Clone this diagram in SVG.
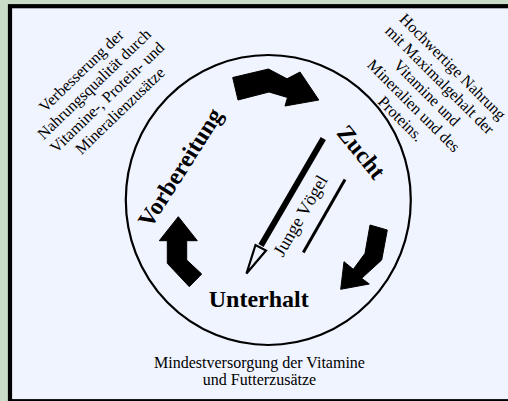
<svg xmlns="http://www.w3.org/2000/svg" width="508" height="401" viewBox="0 0 508 401">
<style>
.t{font-family:"Liberation Serif","Times New Roman",serif;font-size:16px;fill:#000;text-anchor:middle}
.b{font-family:"Liberation Serif","Times New Roman",serif;font-size:24px;font-weight:bold;fill:#000;text-anchor:middle}
.arr{fill:#000;stroke:#000;stroke-width:1;stroke-linejoin:miter}
</style>
<rect x="0" y="0" width="508" height="401" fill="#c8dcc8"/>
<rect x="10" y="6.2" width="520" height="395" fill="#f0f4ff" stroke="#000" stroke-width="4.2"/>
<g id="cycle">
<ellipse cx="268.3" cy="200" rx="142.5" ry="145" fill="none" stroke="#000" stroke-width="2.2"/>
</g>
<g id="connectors">
<polygon class="arr" points="232.7,77.5 268.5,69 287,78.8 300,72 318.8,100 285,106 287.5,97.5 269,92 238,100"/>
<polygon class="arr" points="370,225 387.3,230 381.7,260 361.7,278.3 369.3,284 340.7,289.3 344,261.7 353.3,269.3 365,253.3"/>
<polygon class="arr" points="178.3,216.7 197.3,240.7 186.7,240.7 186.7,260 201.7,274 189.3,286.7 167.3,263.3 167.3,240.7 159.3,240.7"/>
</g>
<g id="pen">
<line x1="323.3" y1="138.5" x2="261" y2="245.5" stroke="#000" stroke-width="6"/>
<polygon points="246.5,273.5 255.5,245 266,250.5" fill="#f0f4ff" stroke="#000" stroke-width="2.2" stroke-linejoin="miter"/>
<line x1="345" y1="179.5" x2="303.3" y2="252.5" stroke="#000" stroke-width="3"/>
<text class="t" style="font-size:18px" transform="translate(305.6,218.6) rotate(-60)">Junge Vögel</text>
</g>
<g id="vorbereitung">
<text class="b" transform="translate(187,172) rotate(-57.5)">Vorbereitung</text>
</g>
<g id="zucht">
<text class="b" transform="translate(355,157) rotate(51)">Zucht</text>
</g>
<g id="unterhalt">
<text class="b" x="258.7" y="307">Unterhalt</text>
</g>
<g id="note-left" transform="translate(104.3,94.5) rotate(-44)">
<text class="t" x="0" y="-27.8">Verbesserung der</text>
<text class="t" x="0" y="-9.3">Nahrungsqualität durch</text>
<text class="t" x="0" y="9.3">Vitamine-, Protein- und</text>
<text class="t" x="0" y="27.8">Mineralienzusätze</text>
</g>
<g id="note-right" transform="translate(423,96.5) rotate(45)">
<text class="t" x="0" y="-36.8">Hochwertige Nahrung</text>
<text class="t" x="0" y="-18.4">mit Maximalgehalt der</text>
<text class="t" x="0" y="0">Vitamine und</text>
<text class="t" x="0" y="18.4">Mineralien und des</text>
<text class="t" x="0" y="36.8">Proteins.</text>
</g>
<g id="note-bottom">
<text class="t" x="259.5" y="368.3">Mindestversorgung der Vitamine</text>
<text class="t" x="259.5" y="385">und Futterzusätze</text>
</g>
</svg>
